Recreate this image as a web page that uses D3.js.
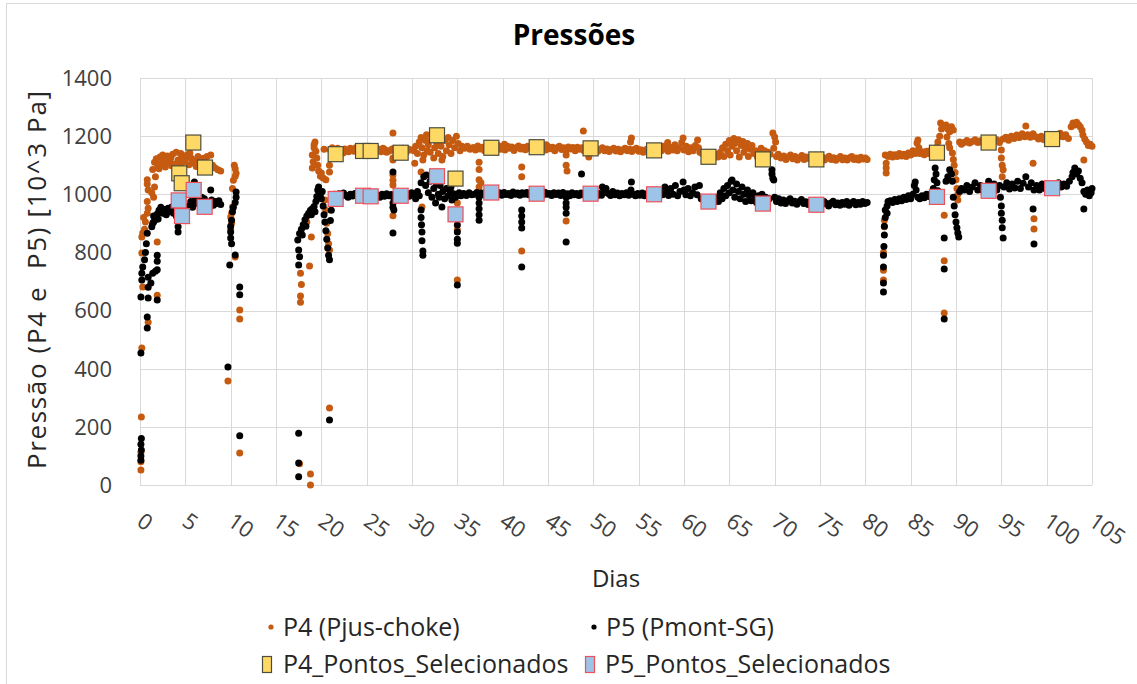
<!DOCTYPE html>
<html>
<head>
<meta charset="utf-8">
<script src="https://cdn.jsdelivr.net/npm/d3@7"></script>
<style>
  html, body { margin: 0; padding: 0; background: #fff; }
  svg { display: block; font-family: "Open Sans", sans-serif; }
</style>
</head>
<body>
<svg id="chart" width="1137" height="684"></svg>
<script>
/* Pressões — P4 / P5 scatter vs. days, with selected points (squares) */

var xTickValues = [0, 5, 10, 15, 20, 25, 30, 35, 40, 45, 50, 55, 60, 65, 70, 75, 80, 85, 90, 95, 100, 105];
var yTickValues = [0, 200, 400, 600, 800, 1000, 1200, 1400];

/* P4 (Pjus-choke) — [dia, pressão] */
var p4Early = [
  [0.1,52],[0.1,80],[0.1,113],[0.15,234],[0.2,471],[0.3,681],[0.2,798],[0.2,853],[0.3,867],[0.5,880],[0.6,905],
  [0.8,935],[0.9,952],[0.8,975],[0.9,1015],[0.8,1035],[0.8,1050],[0.4,920],[0.9,560],[1.9,653],[1.9,836],
  [1.5,990],[1.6,1025],[1.7,1060],[1.3,1005],[1.4,1085],[1.6,1110],[1.8,1122],[2.0,1098],[2.2,1128],[2.4,1108],
  [2.6,1120],[2.8,1094],[3.0,1132],[3.2,1112],[3.4,1125],[3.6,1138],[3.8,1104],[4.0,1145],[4.2,1118],[4.4,1100],
  [4.6,1130],[4.8,1112],[5.0,1120],[5.2,1136],[5.4,1102],[5.6,1126],[5.8,1108],[6.0,1118],[6.2,1096],[6.4,1130],
  [6.6,1112],[6.8,1100],[7.0,1124],[7.2,1106],[7.4,1130],[7.6,1098],[7.8,1135],[8.0,1100],[8.3,1090],[8.6,1084],
  [8.9,1080],[2.1,1088],[2.9,1116],[3.5,1098],[4.5,1140],[5.5,1142],[6.5,1105],[1.9,1104],[2.5,1135],
  [10.4,1100],[10.5,1088],[10.6,1072],[10.5,1062],[10.3,1048],[10.2,1020],[10.2,956],[10.1,935],[10.0,922],
  [10.1,900],[10.0,880],[10.5,784],[9.7,358],[11.0,602],[11.0,571],[11.0,110]
];
var p4Mid = [
  [18.8,0],[18.8,38],[17.6,73],[17.7,629],[17.7,650],[17.8,690],[17.7,728],[18.7,753],[18.9,853],[18.4,905],
  [19.0,1090],[19.1,1112],[19.0,1135],[19.2,1160],[19.3,1180],[19.2,1170],[19.4,1148],[19.5,1125],[19.6,1100],
  [19.7,1080],[19.9,1062],[20.0,1073],[20.2,1056],[20.5,1050],[20.4,980],[20.5,945],[20.6,900],[20.7,865],
  [20.8,830],[20.9,808],[20.9,1077],[20.9,1100],[20.9,265],[20.3,1155]
];
var p4Band = [
  [21.0,1152],[21.2,1160],[21.4,1145],[21.6,1148],[21.8,1158],[22.0,1154],[22.2,1148],[22.4,1142],[22.6,1156],
  [22.8,1150],[23.0,1146],[23.2,1158],[23.4,1154],[23.6,1148],[23.8,1160],[24.0,1153],[24.2,1147],[24.4,1158],
  [24.6,1152],[24.8,1146],[25.0,1158],[25.2,1152],[25.4,1145],[25.6,1159],[25.8,1151],[26.0,1147],[26.2,1157],
  [26.4,1152],[26.6,1146],[26.8,1158],[27.0,1154],[27.2,1145],[27.4,1148],[27.6,1151],[27.8,1156],[28.0,1157],
  [28.2,1145],[28.4,1148],[28.6,1152],[28.8,1144],[29.0,1158],[29.2,1150],[29.4,1146],[29.6,1156],[29.8,1153],
  [27.9,1211],[27.9,1125],[27.9,1118],[27.9,1066],[27.9,1048],[27.9,1032],[27.9,926],
  [30.2,1150],[30.3,1107],[30.4,1165],[30.6,1140],[30.8,1180],[31.0,1195],[31.1,1160],[31.1,956],[31.2,1118],
  [31.3,1135],[31.5,1185],[31.6,1205],[31.8,1170],[32.0,1145],[32.2,1190],[32.4,1125],[32.5,1160],[32.7,1180],
  [32.9,1140],[33.1,1200],[33.2,1165],[33.3,1118],[33.4,1130],[33.6,1185],[33.8,1150],[34.0,1195],[34.1,1170],
  [34.3,1140],[34.5,1185],[34.7,1160],[34.9,1200],[35.0,970],[35.0,930],[35.0,877],[35.0,705],[35.1,1175],
  [35.3,1150],[35.5,1165],[35.8,1158],[36.1,1165],[36.4,1155],[36.7,1160],[31.0,1077],[31.7,1150],[33.0,1175],
  [36.8,1160],[37.0,1152],[37.25,1166],[37.5,1156],[37.75,1162],[38.0,1150],[38.25,1164],[38.5,1158],[38.75,1166],
  [39.0,1154],[39.25,1160],[39.5,1168],[39.75,1155],[40.0,1162],[40.25,1152],[40.5,1165],[40.75,1158],[41.0,1163],
  [41.25,1151],[41.5,1160],[41.75,1166],[42.0,1156],[42.25,1162],[42.5,1153],[42.75,1165],[43.0,1158],[43.25,1163],
  [43.5,1152],[43.75,1160],[44.0,1166],[44.25,1155],[44.5,1161],[44.75,1152],[45.0,1164],[45.25,1157],[45.5,1162],
  [45.75,1150],[46.0,1160],[46.25,1165],[46.5,1154],[46.75,1160],[47.0,1151],[47.25,1163],[47.5,1156],[47.75,1161],
  [48.0,1150],[48.25,1162],[48.5,1155],[48.75,1160],[49.0,1149],
  [37.4,1025],[37.4,1050],[37.4,1085],[37.4,1110],[37.6,1040],[42.1,1094],[42.1,1060],[42.1,805],[47.0,1135],
  [47.0,1100],[47.1,1080],[47.0,908],[48.9,1218],[49.5,1128],[40.2,1172],[44.8,1170],
  [49.25,1158],[49.5,1150],[49.75,1160],[50.0,1152],[50.25,1157],[50.5,1148],[50.75,1155],[51.0,1160],[51.25,1150],
  [51.5,1156],[51.75,1147],[52.0,1154],[52.25,1158],[52.5,1149],[52.75,1155],[53.0,1146],[53.25,1153],[53.5,1158],
  [53.75,1150],[54.0,1155],[54.2,1194],[54.1,1180],[54.25,1147],[54.5,1154],[54.75,1158],[55.0,1148],[55.25,1153],
  [55.5,1145],[55.75,1152],[56.0,1157],[56.25,1148],[56.5,1153],[56.75,1146],[57.0,1152],[57.25,1158],[57.5,1150],
  [57.75,1165],[58.0,1156],[58.2,1178],[58.25,1148],[58.5,1162],[58.75,1152],[59.0,1170],[59.25,1150],[59.5,1160],
  [59.75,1178],[59.9,1194],[60.0,1152],[60.25,1165],[60.5,1146],[60.75,1160],[61.0,1150],[61.25,1168],[61.5,1187],
  [61.6,1160],[61.75,1145],[62.0,1140],[62.25,1132],[62.5,1128],[62.75,1124],[63.0,1130],[63.25,1125],
  [63.5,1138],[63.75,1128],[64.0,1145],[64.25,1160],[64.4,1130],[64.6,1172],[64.8,1150],[65.0,1185],[65.1,1135],
  [65.3,1165],[65.5,1192],[65.6,1175],[65.8,1150],[66.0,1188],[66.1,1128],[66.3,1168],[66.5,1182],[66.6,1145],
  [66.8,1160],[67.0,1175],[67.1,1130],[67.3,1155],[67.5,1168],[67.7,1140],[67.9,1150],[68.1,1128],[68.3,1145],
  [68.5,1158],[68.7,1135],[68.9,1150],[69.1,1128],[69.3,1145],[69.5,1138],[69.8,1211],[70.0,1197],[70.1,1180],
  [69.9,1158],[70.2,1130],
  [70.4,1138],[70.7,1125],[71.0,1132],[71.25,1120],[71.5,1128],[71.75,1135],[72.0,1122],[72.25,1130],[72.5,1118],
  [72.75,1126],[73.0,1133],[73.25,1120],[73.5,1128],[73.75,1123],[74.0,1130],[74.25,1118],[74.5,1126],[74.75,1132],
  [75.0,1120],[75.25,1127],[75.5,1118],[75.75,1125],[76.0,1131],[76.25,1120],[76.5,1126],[76.75,1117],[77.0,1124],
  [77.25,1130],[77.5,1119],[77.75,1125],[78.0,1118],[78.25,1126],[78.5,1130],[78.75,1120],[79.0,1125],[79.25,1118],
  [79.5,1127],[79.75,1121],[80.0,1125],[80.2,1120]
];
var p4Late = [
  [82.0,705],[82.0,739],[82.0,800],[82.1,888],[82.1,911],[82.3,1073],[82.3,1090],[82.3,1107],[82.2,1135],
  [82.5,1130],[82.75,1138],[83.0,1128],[83.25,1136],[83.5,1130],[83.75,1140],[84.0,1132],[84.25,1138],[84.5,1130],
  [84.75,1142],[85.0,1135],[85.25,1150],[85.5,1140],[85.8,1187],[85.7,1176],[85.9,1160],[86.0,1140],[86.25,1146],
  [86.5,1136],[86.75,1148],[87.0,1140],[87.25,1152],[87.5,1145],[87.9,1163],[88.0,1180],[88.2,1200],[88.3,1245],
  [88.4,1225],[88.7,928],[88.7,771],[88.7,592],[88.9,1238],[89.1,1225],[89.3,1215],[89.5,1232],[89.7,1221],
  [89.0,1197],[89.2,1175],[89.3,1160],[89.6,1142],[89.7,1120],[89.8,1100],[89.9,1075],[90.0,1050],[90.1,1020],
  [90.2,1000],[90.2,980],[90.4,1180],[90.6,1172],
  [90.9,1178],[91.2,1185],[91.5,1176],[91.8,1182],[92.1,1188],[92.4,1178],[92.7,1184],[93.0,1176],[93.3,1186],
  [93.6,1180],[93.9,1190],[94.2,1182],[94.5,1188],[94.8,1178],[95.0,1152],[95.0,1125],[95.1,1100],[95.2,1084],
  [95.1,1060],[95.2,1190],[95.5,1196],[95.8,1186],[96.1,1200],[96.4,1192],[96.7,1204],[97.0,1195],[97.3,1208],
  [97.6,1198],[97.7,1235],[97.9,1205],[98.2,1196],[98.5,1208],[98.8,1198],[99.1,1190],[99.4,1200],[99.7,1188],
  [100.0,1195],[98.5,1107],[98.6,916],[98.6,881],
  [100.3,1200],[100.6,1188],[100.9,1205],[101.2,1195],[101.5,1210],[101.8,1198],[102.1,1205],[102.4,1192],
  [102.7,1232],[102.9,1245],[103.1,1238],[103.3,1248],[103.5,1240],[103.7,1232],[103.9,1220],[104.0,1204],
  [104.2,1190],[104.4,1180],[104.6,1168],[104.8,1172],[105.0,1165],[104.1,1118]
];

/* P5 (Pmont-SG) — [dia, pressão] */
var p5Early = [
  [0.1,85],[0.1,100],[0.15,120],[0.1,140],[0.15,160],[0.1,454],[0.1,647],[0.2,705],[0.2,728],[0.3,750],[0.5,775],
  [0.6,800],[0.7,830],[0.8,866],[0.8,540],[0.8,578],[0.9,643],[0.9,680],[1.2,695],[0.9,715],[1.4,728],[1.7,735],
  [1.9,740],[1.9,636],[1.9,770],[1.9,790],[1.3,888],[1.5,905],[1.7,912],[1.5,925],[1.9,932],[2.1,945],[2.3,955],
  [2.5,935],[2.7,948],[2.9,930],[3.1,952],[3.3,940],[3.5,956],[3.7,935],[4.0,925],[4.2,888],[4.2,870],[1.4,900],
  [2.0,915],[5.4,960],[5.6,975],[5.8,955],[6.0,1042],[6.1,985],[6.3,968],[6.5,980],[6.7,958],[6.9,972],[7.1,985],
  [7.3,955],[7.5,968],[7.8,1015],[7.9,980],[8.1,962],[8.3,975],[8.5,968],[8.7,978],[8.9,965],[5.9,970],[6.8,990],
  [7.6,950],[10.6,1008],[10.6,990],[10.5,972],[10.3,955],[10.2,940],[10.1,911],[10.0,890],[10.0,870],[10.0,850],
  [10.1,830],[10.5,791],[9.9,757],[9.7,406],[11.0,681],[11.0,654],[11.0,169]
];
var p5Mid = [
  [17.5,178],[17.5,76],[17.5,28],[17.5,757],[17.6,785],[17.5,808],[17.4,843],[17.6,865],[17.8,880],[18.0,895],
  [18.2,912],[18.4,925],[18.6,935],[18.8,945],[19.0,950],[19.2,958],[19.4,975],[19.5,992],[19.6,1015],[19.7,1025],
  [19.9,1000],[20.0,985],[20.2,960],[20.3,930],[20.4,905],[20.5,875],[20.6,845],[20.7,815],[20.8,790],[20.9,775],
  [20.9,224],[21.0,910],[21.1,945],[20.1,1010],[19.3,940],[18.9,930],[18.3,890],[17.9,860]
];
var p5Band = [
  [21.2,990],[21.45,1000],[21.7,993],[21.95,1002],[22.2,994],[22.45,1004],[22.7,996],[22.95,990],[23.2,1000],
  [23.45,994],[23.7,1003],[23.95,995],[24.2,1000],[24.45,992],[24.7,1002],[24.95,996],[25.2,990],[25.45,1000],
  [25.7,994],[25.95,1004],[26.2,996],[26.45,990],[26.7,1000],[26.95,993],[27.2,1002],[27.45,995],[27.7,999],
  [27.95,990],[28.2,1001],[28.45,994],[28.7,1003],[28.95,996],[29.2,990],[29.45,1000],[29.7,993],[29.95,1005],
  [27.9,1077],[27.9,970],[27.9,955],[28.0,946],[27.9,867],
  [30.2,1000],[30.4,985],[30.6,1010],[30.8,995],[31.0,1040],[31.0,946],[31.0,920],[31.05,895],[31.1,870],[31.1,840],
  [31.2,805],[31.2,790],[31.3,1060],[31.5,1030],[31.6,1066],[31.8,1005],[32.0,1045],[32.2,990],[32.4,1020],
  [32.6,970],[32.7,1035],[32.9,1000],[33.1,1030],[33.3,956],[33.4,1010],[33.6,985],[33.8,1020],[34.0,995],
  [34.2,1012],[34.4,980],[34.6,1002],[34.8,990],[35.0,894],[35.0,870],[35.0,845],[35.0,832],[35.0,688],[35.2,1005],
  [35.4,995],[35.7,1003],[36.0,996],[36.3,1005],[36.6,998],[33.0,990],[32.2,1058],[34.3,1025],
  [36.9,1000],[37.15,1006],[37.4,996],[37.65,1004],[37.9,998],[38.15,1008],[38.4,999],[38.65,1004],[38.9,996],
  [39.15,1007],[39.4,1000],[39.65,1005],[39.9,997],[40.15,1006],[40.4,999],[40.65,1003],[40.9,996],[41.15,1008],
  [41.4,1000],[41.65,1004],[41.9,997],[42.15,1005],[42.4,1000],[42.65,1006],[42.9,998],[43.15,1004],[43.4,996],
  [43.65,1006],[43.9,1000],[44.15,1004],[44.4,997],[44.65,1007],[44.9,1000],[45.15,1003],[45.4,996],[45.65,1005],
  [45.9,999],[46.15,1004],[46.4,996],[46.65,1006],[46.9,1000],[47.15,1002],[47.4,995],[47.65,1005],[47.9,998],
  [48.15,1003],[48.4,996],[48.65,1004],[48.9,998],
  [37.4,990],[37.4,970],[37.4,950],[37.4,930],[37.4,911],[42.1,946],[42.1,925],[42.1,905],[42.1,884],[42.1,750],
  [47.0,990],[47.0,970],[47.0,955],[47.0,935],[47.0,836],[48.7,1070],
  [49.15,1002],[49.4,996],[49.65,1005],[49.9,998],[50.15,1004],[50.4,995],[50.65,1003],[50.9,997],[51.0,1025],
  [51.15,1006],[51.4,1020],[51.65,1003],[51.9,996],[52.15,1010],[52.4,998],[52.65,1004],[52.9,995],[53.15,1003],
  [53.4,998],[53.65,1005],[53.9,997],[54.2,1042],[54.15,1015],[54.4,1000],[54.65,995],[54.9,1003],[55.15,997],
  [55.4,1004],[55.65,995],[55.9,1002],[56.15,996],[56.4,1003],[56.65,994],[56.9,1001],[57.15,996],[57.4,1008],
  [57.65,998],[57.9,1025],[58.1,1012],[58.3,996],[58.55,1020],[58.8,1000],[59.05,1030],[59.3,995],[59.55,1010],
  [59.9,1042],[60.0,1015],[60.2,998],[60.45,1020],[60.7,995],[60.95,1005],[61.2,1025],[61.45,998],[61.7,1030],
  [61.9,985],[62.15,980],[62.4,975],[62.65,978],[62.9,972],[63.15,980],[63.4,975],
  [63.6,990],[63.8,975],[64.0,1005],[64.2,985],[64.4,1020],[64.6,995],[64.8,1030],[65.0,1005],[65.2,1045],
  [65.3,1049],[65.4,1015],[65.6,990],[65.8,1035],[66.0,1010],[66.2,985],[66.4,1025],[66.6,1000],[66.8,975],
  [67.0,1015],[67.2,995],[67.4,978],[67.6,1005],[67.8,985],[68.0,972],[68.2,995],[68.4,980],[68.6,1000],[68.8,975],
  [69.0,990],[69.2,972],[69.4,985],[69.7,1084],[69.7,1070],[69.8,1055],[69.9,1049],[70.0,990],[70.2,975],
  [70.45,985],[70.7,970],[70.95,980],[71.2,968],[71.45,978],[71.7,985],[71.95,970],[72.2,976],[72.45,966],
  [72.7,975],[72.95,982],[73.2,968],[73.45,974],[73.7,965],[73.95,975],[74.2,968],[74.45,978],[74.7,962],
  [74.95,972],[75.2,965],[75.45,975],[75.7,968],[75.95,960],[76.2,970],[76.45,976],[76.7,964],[76.95,970],
  [77.2,962],[77.45,972],[77.7,966],[77.95,975],[78.2,962],[78.45,970],[78.7,975],[78.95,964],[79.2,972],
  [79.45,966],[79.7,975],[79.95,968],[80.2,972]
];
var p5Late = [
  [82.0,664],[82.0,695],[82.0,750],[82.0,790],[82.05,820],[82.1,860],[82.1,890],[82.2,920],[82.2,946],[82.4,960],
  [82.4,935],[82.5,975],[82.75,978],[83.0,972],[83.25,982],[83.5,975],[83.75,985],[84.0,978],[84.25,990],[84.5,982],
  [84.75,995],[85.0,985],[85.25,1000],[85.4,1030],[85.5,1042],[85.6,1015],[85.8,990],[86.0,985],[86.25,995],
  [86.5,988],[86.75,1000],[87.0,992],[87.25,1002],[87.5,1020],[87.6,1050],[87.7,1090],[87.8,1070],[87.9,1040],
  [88.0,1012],[88.2,1000],[88.7,850],[88.7,743],[88.7,571],
  [88.9,1045],[89.1,1060],[89.3,1084],[89.5,1070],[89.6,1045],[89.7,990],[89.8,960],[89.9,930],[90.0,905],
  [90.1,885],[90.2,867],[90.3,853],[90.4,1010],[90.6,1020],
  [90.9,1015],[91.2,1030],[91.5,1010],[91.8,1025],[92.1,1040],[92.4,1015],[92.7,1030],[93.0,1012],[93.3,1025],
  [93.6,1045],[93.9,1020],[94.2,1035],[94.5,1015],[94.8,1030],[94.9,990],[95.0,960],[95.0,935],[95.1,911],
  [95.1,885],[95.2,850],[95.3,1025],[95.6,1040],[95.9,1018],[96.2,1035],[96.5,1022],[96.8,1045],[97.1,1020],
  [97.4,1038],[97.7,1060],[98.0,1025],[98.3,1040],[98.6,1015],[98.5,949],[98.6,829],[98.9,1030],[99.2,1015],
  [99.5,1035],[99.8,1020],[100.1,1030],[100.4,1018],[100.7,1032],[101.0,1022],[101.3,1040],[101.6,1025],
  [101.9,1035],[102.2,1028],[102.5,1045],[102.8,1060],[102.9,1075],[103.1,1090],[103.3,1070],[103.5,1080],
  [103.7,1055],[103.9,1040],[104.1,949],[104.1,1010],[104.3,1000],[104.5,1015],[104.7,995],[104.9,1005],[105.0,1020]
];

/* Pontos selecionados */
var p4SelDays = [4.33, 4.6, 5.88, 7.17, 21.58, 24.6, 25.44, 28.75, 32.76, 34.8, 38.75, 43.75, 49.7, 56.7, 62.7, 68.7, 74.6, 87.9, 93.6, 100.6];
var p4SelVals = [1072, 1038, 1178, 1092, 1138, 1149, 1149, 1143, 1203, 1054, 1160, 1162, 1158, 1151, 1129, 1120, 1120, 1143, 1178, 1190];
var p5SelDays = [4.27, 4.63, 5.92, 7.13, 21.58, 24.6, 25.44, 28.75, 32.76, 34.8, 38.75, 43.75, 49.7, 56.7, 62.7, 68.7, 74.6, 87.9, 93.6, 100.6];
var p5SelVals = [979, 925, 1015, 957, 984, 995, 993, 995, 1062, 931, 1006, 1002, 1002, 1000, 975, 968, 964, 991, 1012, 1021];

(function () {
  'use strict';
  var W = 1137, H = 684;
  var plot = { left: 140, right: 1092, top: 78, bottom: 485 };
  var colors = {
    p4: '#c55a11', p5: '#000000',
    p4Sel: '#ffd966', p4SelLine: '#4d4d3b',
    p5Sel: '#9dc3e6', p5SelLine: '#f0505a',
    grid: '#d9d9d9', tick: '#404040', text: '#262626'
  };

  var svg = d3.select('#chart');

  /* outer frame */
  svg.append('rect')
    .attr('x', 6.5).attr('y', 3.5).attr('width', W + 20).attr('height', H + 20)
    .attr('fill', '#fff').attr('stroke', colors.grid).attr('stroke-width', 1);

  var x = d3.scaleLinear().domain([0, 105]).range([plot.left, plot.right]);
  var y = d3.scaleLinear().domain([0, 1400]).range([plot.bottom, plot.top]);
  var px = function (v) { return Math.round(v) + 0.5; };

  /* grid */
  var grid = svg.append('g');
  grid.selectAll('line.v').data(xTickValues).enter().append('line')
    .attr('x1', function (d) { return px(x(d)); }).attr('x2', function (d) { return px(x(d)); })
    .attr('y1', plot.top).attr('y2', plot.bottom)
    .attr('stroke', colors.grid).attr('stroke-width', 1);
  grid.selectAll('line.h').data(yTickValues).enter().append('line')
    .attr('x1', plot.left).attr('x2', plot.right)
    .attr('y1', function (d) { return px(y(d)); }).attr('y2', function (d) { return px(y(d)); })
    .attr('stroke', colors.grid).attr('stroke-width', 1);

  /* y tick labels */
  svg.append('g').selectAll('text').data(yTickValues).enter().append('text')
    .attr('x', 112).attr('y', function (d) { return y(d); })
    .attr('dy', '0.36em').attr('text-anchor', 'end')
    .style('font-size', '22px').style('fill', colors.tick)
    .text(function (d) { return d; });

  /* x tick labels, rotated */
  svg.append('g').selectAll('text').data(xTickValues).enter().append('text')
    .attr('transform', function (d) { return 'translate(' + (x(d) + 5) + ',511) rotate(35)'; })
    .attr('dy', '0.75em').attr('text-anchor', 'start')
    .style('font-size', '22px').style('fill', colors.tick)
    .text(function (d) { return d; });

  /* scatter series */
  var dots = svg.append('g');
  function drawDots(data, color) {
    dots.append('g').selectAll('circle').data(data).enter().append('circle')
      .attr('cx', function (d) { return x(d[0]); })
      .attr('cy', function (d) { return y(d[1]); })
      .attr('r', 3.5).attr('fill', color);
  }
  drawDots(p4Early.concat(p4Mid, p4Band, p4Late), colors.p4);
  drawDots(p5Early.concat(p5Mid, p5Band, p5Late), colors.p5);

  /* selected points */
  function drawSquares(days, vals, fill, stroke) {
    var s = 15;
    svg.append('g').selectAll('rect').data(days).enter().append('rect')
      .attr('x', function (d) { return x(d) - s / 2; })
      .attr('y', function (d, i) { return y(vals[i]) - s / 2; })
      .attr('width', s).attr('height', s)
      .attr('fill', fill).attr('stroke', stroke).attr('stroke-width', 1.2);
  }
  drawSquares(p4SelDays, p4SelVals, colors.p4Sel, colors.p4SelLine);
  drawSquares(p5SelDays, p5SelVals, colors.p5Sel, colors.p5SelLine);

  /* titles */
  svg.append('text')
    .attr('x', 574).attr('y', 45).attr('text-anchor', 'middle')
    .style('font-size', '28px').style('font-weight', 'bold').style('fill', '#000')
    .text('Pressões');
  svg.append('text')
    .attr('transform', 'translate(46,280) rotate(-90)').attr('text-anchor', 'middle')
    .attr('textLength', 378).attr('lengthAdjust', 'spacing')
    .style('font-size', '26px').style('fill', colors.text)
    .attr('xml:space', 'preserve')
    .text('Pressão (P4 e  P5) [10^3 Pa]');
  svg.append('text')
    .attr('x', 616).attr('y', 587).attr('text-anchor', 'middle')
    .style('font-size', '24px').style('fill', colors.text)
    .text('Dias');

  /* legend */
  var lg = svg.append('g').style('font-size', '25px').style('fill', colors.text);
  lg.append('circle').attr('cx', 271).attr('cy', 627).attr('r', 2.6).attr('fill', colors.p4);
  lg.append('text').attr('x', 283).attr('y', 636).text('P4 (Pjus-choke)');
  lg.append('circle').attr('cx', 594).attr('cy', 627).attr('r', 2.6).attr('fill', colors.p5);
  lg.append('text').attr('x', 606).attr('y', 636).text('P5 (Pmont-SG)');
  lg.append('rect').attr('x', 262.5).attr('y', 656.5).attr('width', 9).attr('height', 16)
    .attr('fill', colors.p4Sel).attr('stroke', colors.p4SelLine).attr('stroke-width', 1.2);
  lg.append('text').attr('x', 283).attr('y', 673).text('P4_Pontos_Selecionados');
  lg.append('rect').attr('x', 585.5).attr('y', 656.5).attr('width', 9).attr('height', 16)
    .attr('fill', colors.p5Sel).attr('stroke', colors.p5SelLine).attr('stroke-width', 1.2);
  lg.append('text').attr('x', 605).attr('y', 673).text('P5_Pontos_Selecionados');
})();
</script>
</body>
</html>
